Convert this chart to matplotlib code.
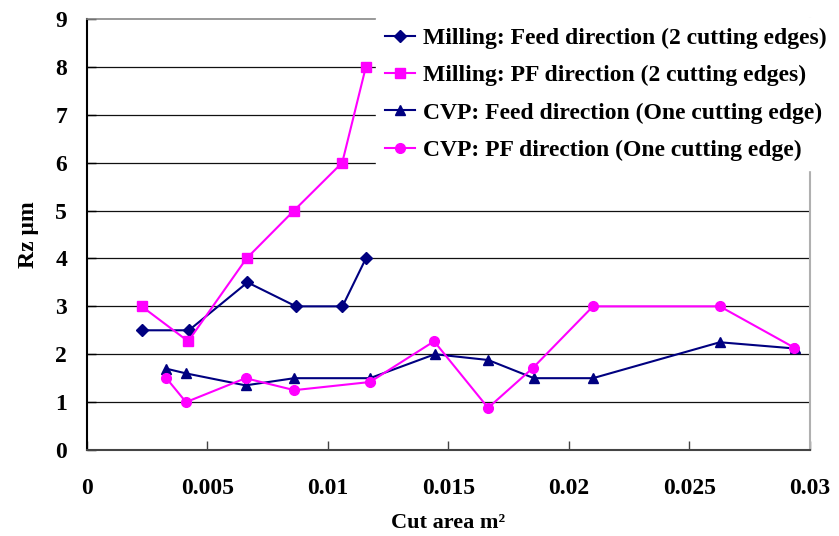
import matplotlib
matplotlib.use("Agg")
import matplotlib.pyplot as plt

# data
mill_feed_x = [0.00228, 0.00424, 0.00667, 0.00868, 0.01061, 0.01158]
mill_feed_y = [2.5, 2.5, 3.5, 3.0, 3.0, 4.0]

mill_pf_x = [0.00228, 0.00421, 0.00663, 0.0086, 0.0106, 0.01158]
mill_pf_y = [3.0, 2.27, 4.0, 5.0, 6.0, 8.0]

cvp_feed_x = [0.00329, 0.00412, 0.00659, 0.00861, 0.01175, 0.01444,
              0.01665, 0.01855, 0.0210, 0.02626, 0.02937]
cvp_feed_y = [1.70, 1.60, 1.35, 1.50, 1.50, 2.00, 1.88, 1.50, 1.50, 2.25, 2.12]

cvp_pf_x = [0.00329, 0.00412, 0.00659, 0.00861, 0.01175, 0.01441,
            0.01665, 0.01852, 0.0210, 0.02626, 0.02934]
cvp_pf_y = [1.51, 1.0, 1.5, 1.25, 1.42, 2.27, 0.88, 1.72, 3.0, 3.0, 2.14]

labels = ["Milling: Feed direction (2 cutting edges)",
          "Milling: PF direction (2 cutting edges)",
          "CVP: Feed direction (One cutting edge)",
          "CVP: PF direction (One cutting edge)"]

xticks = [0, 0.005, 0.01, 0.015, 0.02, 0.025, 0.03]
xtick_labels = ["0", "0.005", "0.01", "0.015", "0.02", "0.025", "0.03"]
yticks = list(range(0, 10))

NAVY = "#000080"
MAG = "#FF00FF"

plt.rcParams['font.family'] = ['Liberation Serif', 'DejaVu Serif']
plt.rcParams['font.weight'] = 'bold'

fig = plt.figure(figsize=(8.39, 5.36), dpi=100)
ax = fig.add_axes([0.1033, 0.1604, 0.9654 - 0.1033, 0.9646 - 0.1604])

l1, = ax.plot(mill_feed_x, mill_feed_y, color=NAVY, lw=1.5, marker='D', ms=6)
l2, = ax.plot(mill_pf_x, mill_pf_y, color=MAG, lw=1.5, marker='s', ms=6.5)
l3, = ax.plot(cvp_feed_x, cvp_feed_y, color=NAVY, lw=1.5, marker='^', ms=7.5)
l4, = ax.plot(cvp_pf_x, cvp_pf_y, color=MAG, lw=1.5, marker='o', ms=7)

ax.set_xlim(0, 0.03)
ax.set_ylim(0, 9)
ax.set_xticks(xticks)
ax.set_xticklabels(xtick_labels)
ax.set_yticks(yticks)

for y in yticks[1:-1]:
    ax.axhline(y, color='#111111', lw=0.9, zorder=0)

ax.spines['top'].set_color('#888888')
ax.spines['top'].set_linewidth(1.2)
ax.spines['right'].set_color('#b0b0b0')
ax.spines['right'].set_linewidth(1.5)
ax.spines['left'].set_color('black')
ax.spines['left'].set_linewidth(1.5)
ax.spines['bottom'].set_color('#444444')
ax.spines['bottom'].set_linewidth(1.5)

ax.tick_params(axis='x', direction='in', length=6.5, width=1, color='#444444',
               pad=20, labelsize=17)
ax.tick_params(axis='y', direction='in', length=6.5, width=1, color='black',
               pad=14, labelsize=17)

ax.set_xlabel("Cut area m\u00b2", fontsize=16, fontweight='bold', labelpad=10)
ax.set_ylabel("Rz \u03bcm", fontsize=17, fontweight='bold', labelpad=12)

leg = fig.legend([l1, l2, l3, l4], labels, loc='upper left',
                 bbox_to_anchor=(376 / 839, 1 - 18 / 536),
                 bbox_transform=fig.transFigure,
                 prop={'family': 'Liberation Serif', 'weight': 'bold', 'size': 17},
                 frameon=True, fancybox=False, edgecolor='white', facecolor='white',
                 framealpha=1, handlelength=1.27, handletextpad=0.3,
                 labelspacing=0.67, borderpad=0.4, borderaxespad=0)

fig.savefig("out.png", dpi=100)
